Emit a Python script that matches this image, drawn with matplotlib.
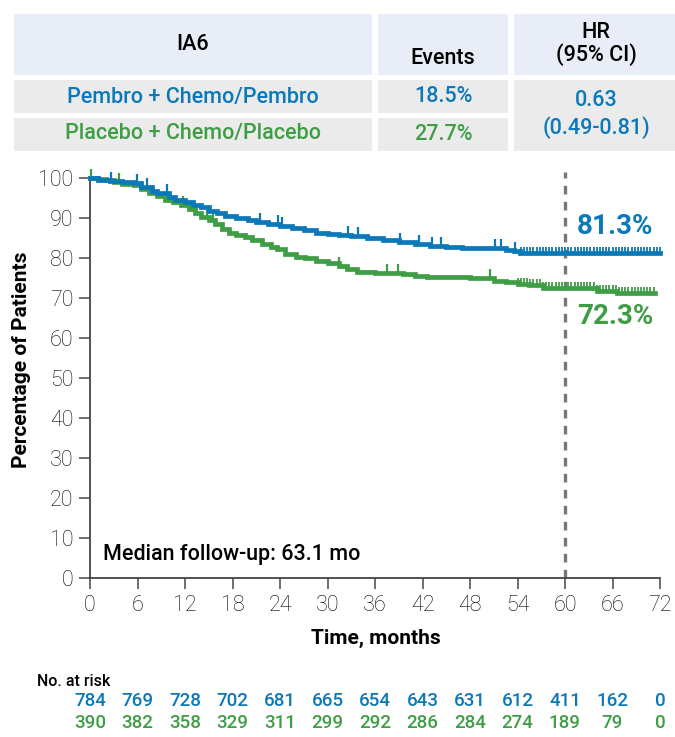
import matplotlib
matplotlib.use("Agg")
import matplotlib.pyplot as plt
from matplotlib.patches import Rectangle
from matplotlib.path import Path

plt.rcParams['font.family'] = ['Roboto', 'DejaVu Sans']

BLUE = '#0b78b8'
GREEN = '#3f9e45'
W, H = 675, 737

# KM curves (months, % of patients)
blue_t = [0, 1.0, 2.5, 4, 5.5, 6.5, 7.8, 8.5, 10, 10.7, 12, 13, 14, 15, 16, 17, 18.5, 20, 21,
          22.5, 24, 25.5, 27, 28.5, 30, 31.5, 33, 35, 37, 39, 41, 43, 45, 47, 49, 51, 52.5,
          53.5, 54.3, 72]
blue_v = [100, 99.6, 99.3, 99.0, 98.7, 97.8, 96.8, 96.3, 95.3, 94.5, 94.0, 93.2, 92.8, 91.8,
          91.2, 90.4, 90.0, 89.6, 88.9, 88.4, 87.9, 87.4, 86.9, 86.3, 86.0, 85.8, 85.4, 85.0,
          84.6, 84.0, 83.6, 83.1, 82.8, 82.6, 82.5, 82.4, 82.1, 81.8, 81.3, 81.3]
green_t = [0, 1, 2, 3, 4, 5.5, 6.5, 7.5, 8.5, 9.5, 10.5, 11.5, 12.5, 13.2, 14, 15, 15.8, 16.7,
           17.5, 18.5, 19.6, 20.5, 21.7, 22.8, 23.6, 24.6, 26, 27.2, 28.5, 30, 31.5, 32.5,
           33.7, 36, 39.5, 41, 42.6, 48, 49, 51, 52.5, 54, 55.5, 57.2, 64, 66.6, 71.4]
green_v = [100, 99.7, 99.4, 99.0, 98.6, 98.2, 97.2, 96.2, 95.4, 94.6, 94.0, 93.3, 92.2, 91.2,
           90.2, 89.6, 88.4, 87.2, 86.2, 85.7, 85.2, 84.4, 83.6, 82.8, 82.2, 80.9, 80.3, 79.9,
           79.2, 78.7, 78.0, 77.2, 76.4, 76.3, 76.1, 75.6, 75.2, 75.1, 74.9, 74.3, 74.1, 73.6,
           73.3, 72.4, 71.8, 71.3, 71.3]

# censor marks: scattered ones, then the dense tail after ~54 months
blue_cens = [2.7, 5.9, 7.2, 9.7, 21.5, 23.8, 24.3, 32.6, 33.8, 39.2, 41.6, 43.2, 44.3, 51.2,
             51.9, 53.7]
blue_cens_tail = [54.4, 54.8, 55.2, 55.6, 56.0, 56.4, 56.8, 57.2, 57.6, 58.0, 58.4, 58.8,
                  59.2, 59.6, 60.0, 60.4, 60.8, 61.2, 61.6, 62.0, 62.4, 62.8, 63.2, 63.6,
                  64.0, 64.4, 64.8, 65.2, 65.6, 66.0, 66.4, 66.8, 67.2, 67.6, 68.0, 68.4,
                  68.8, 69.2, 69.6, 70.0, 70.4, 70.8, 71.2, 71.6, 72.0]
green_cens = [0.1, 3.6, 11.7, 14.8, 15.5, 31.5, 37.5, 38.9, 50.5]
green_cens_tail = [54.0, 54.4, 54.8, 55.2, 55.6, 56.0, 56.4, 56.8, 57.2, 57.6, 58.0, 58.4,
                   58.8, 59.2, 59.6, 60.0, 60.4, 60.8, 61.2, 61.6, 62.0, 62.4, 62.8, 63.2,
                   63.6, 64.0, 64.4, 64.8, 65.2, 65.6, 66.0, 66.4, 66.8, 67.2, 67.6, 68.0,
                   68.4, 68.8, 69.2, 69.6, 70.0, 70.4, 70.8, 71.2]

x_ticks = [0, 6, 12, 18, 24, 30, 36, 42, 48, 54, 60, 66, 72]
risk_blue = [784, 769, 728, 702, 681, 665, 654, 643, 631, 612, 411, 162, 0]
risk_green = [390, 382, 358, 329, 311, 299, 292, 286, 284, 274, 189, 79, 0]

table_rows = ['Pembro + Chemo/Pembro', 'Placebo + Chemo/Placebo']
table_events = ['18.5%', '27.7%']
hr_text = ['0.63', '(0.49-0.81)']
landmark = 60
landmark_rates = ['81.3%', '72.3%']


def fx(px):
    return px / W


def fy(py):
    return 1 - py / H


def value_at(ts, vs, t):
    v = vs[0]
    for ti, vi in zip(ts, vs):
        if ti <= t:
            v = vi
    return v


fig = plt.figure(figsize=(W / 100, H / 100), dpi=100)

# ---- summary table on top ----
def cell(x0, y0, x1, y1, color):
    fig.patches.append(Rectangle((fx(x0), fy(y1)), fx(x1) - fx(x0), fy(y0) - fy(y1),
                                 transform=fig.transFigure, facecolor=color,
                                 edgecolor='none', zorder=0))

HEAD = '#e8edf7'
ROW = '#ebebeb'
cell(14, 14, 372, 75, HEAD)
cell(378, 14, 508, 75, HEAD)
cell(514, 14, 675, 75, HEAD)
cell(14, 80, 372, 113, ROW)
cell(378, 80, 508, 113, ROW)
cell(14, 118, 372, 151, ROW)
cell(378, 118, 508, 151, ROW)
cell(514, 80, 675, 151, ROW)

tkw = dict(fontsize=15.5, fontweight='medium', ha='center', va='center')
fig.text(fx(193), fy(45), 'IA6', color='black', **tkw)
fig.text(fx(443), fy(58), 'Events', color='black', **tkw)
fig.text(fx(596), fy(33), 'HR', color='black', **tkw)
fig.text(fx(596), fy(55), '(95% CI)', color='black', **tkw)
fig.text(fx(193), fy(97), table_rows[0], color=BLUE, **tkw)
fig.text(fx(193), fy(134), table_rows[1], color=GREEN, **tkw)
fig.text(fx(443), fy(97), table_events[0], color=BLUE, **tkw)
fig.text(fx(443), fy(134), table_events[1], color=GREEN, **tkw)
fig.text(fx(596), fy(101), hr_text[0], color=BLUE, **tkw)
fig.text(fx(596), fy(128), hr_text[1], color=BLUE, **tkw)

# ---- KM plot ----
ax = fig.add_axes([fx(90), fy(578), fx(660) - fx(90), fy(178) - fy(578)])
ax.set_xlim(0, 72)
ax.set_ylim(0, 100)

tick_up = Path([(0, 0), (0, 1)])
for ts, vs, cens, tail, col in [(green_t, green_v, green_cens, green_cens_tail, GREEN),
                                (blue_t, blue_v, blue_cens, blue_cens_tail, BLUE)]:
    ax.step(ts, vs, where='post', color=col, lw=3.4, clip_on=False, zorder=3,
            solid_joinstyle='miter')
    cy = [value_at(ts, vs, c) for c in cens]
    ax.plot(cens, cy, ls='none', marker=tick_up, markersize=13, markeredgewidth=1.6,
            color=col, clip_on=False, zorder=3)
    ty = [value_at(ts, vs, c) for c in tail]
    ax.plot(tail, ty, ls='none', marker=tick_up, markersize=9, markeredgewidth=1.3,
            color=col, clip_on=False, zorder=3)

ax.axvline(landmark, ymin=0, ymax=1.015, color='#777777', lw=2.4, ls=(0, (2.6, 2.2)),
           clip_on=False, zorder=2)
ax.text(66.3, 87.8, landmark_rates[0], color=BLUE, fontsize=20, fontweight='bold',
        ha='center', va='center')
ax.text(66.3, 65.5, landmark_rates[1], color=GREEN, fontsize=20, fontweight='bold',
        ha='center', va='center')
ax.text(1.6, 5.8, 'Median follow-up: 63.1 mo', fontsize=15.5, fontweight='medium',
        ha='left', va='center')

for s in ['top', 'right']:
    ax.spines[s].set_visible(False)
for s in ['left', 'bottom']:
    ax.spines[s].set_color('#444444')
    ax.spines[s].set_linewidth(1.3)
ax.set_xticks(x_ticks)
ax.set_yticks(range(0, 101, 10))
ax.tick_params(axis='both', direction='out', length=8, width=1.2, color='#555555',
               labelsize=15.5, pad=4)
for lab in ax.get_xticklabels() + ax.get_yticklabels():
    lab.set_fontweight('light')

fig.text(fx(22), fy(360), 'Percentage of Patients', rotation=90, fontsize=15,
         fontweight='bold', ha='center', va='center')
fig.text(fx(376), fy(638), 'Time, months', fontsize=15, fontweight='bold',
         ha='center', va='center')

# ---- number at risk ----
fig.text(fx(37), fy(681), 'No. at risk', fontsize=11.5, fontweight='medium',
         ha='left', va='center')
for t, nb, ng in zip(x_ticks, risk_blue, risk_green):
    xf = fig.transFigure.inverted().transform(ax.transData.transform((t, 0)))[0]
    fig.text(xf, fy(701), str(nb), color=BLUE, fontsize=13.5, fontweight='medium',
             ha='center', va='center')
    fig.text(xf, fy(723), str(ng), color=GREEN, fontsize=13.5, fontweight='medium',
             ha='center', va='center')

fig.savefig('out.png', dpi=100)
